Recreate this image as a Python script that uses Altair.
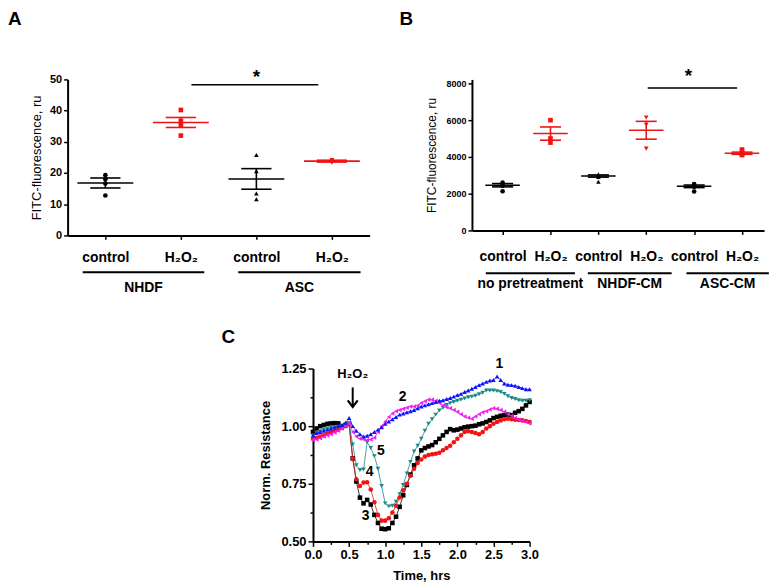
import json
import altair as alt
import pandas as pd

FONT = "Liberation Sans"
RED = "#f01414"

# ---------------- Panel A data ----------------
a_conditions = ["control", "H₂O₂", "control", "H₂O₂"]
a_groups = ["NHDF", "ASC"]
a_points = [
    [19.3, 18.0, 16.6, 12.8],
    [40.2, 36.7, 35.4, 32.0],
    [25.8, 20.6, 13.4, 11.6],
    [24.2, 23.8, 23.5, 23.3],
]
a_means = [16.8, 36.2, 18.1, 23.8]
a_sems = [1.6, 1.6, 3.3, 0.3]
a_y_ticks = [0, 10, 20, 30, 40, 50]

# ---------------- Panel B data ----------------
b_conditions = ["control", "H₂O₂", "control", "H₂O₂", "control", "H₂O₂"]
b_groups = ["no pretreatment", "NHDF-CM", "ASC-CM"]
b_points = [
    [2600, 2460, 2430, 2130],
    [6000, 5000, 4780],
    [3060, 2970, 2910, 2650],
    [6150, 5750, 4450],
    [2520, 2430, 2370, 2120],
    [4400, 4280, 4140, 4100],
]
b_means = [2460, 5270, 2960, 5450, 2400, 4200]
b_sems = [90, 360, 60, 485, 70, 60]
b_y_ticks = [0, 2000, 4000, 6000, 8000]

# ---------------- Panel C data ----------------
c_time = [0.00, 0.05, 0.10, 0.15, 0.20, 0.25, 0.30, 0.35, 0.40, 0.45,
          0.50, 0.55, 0.60, 0.65, 0.70, 0.75, 0.80, 0.85, 0.90, 0.95,
          1.00, 1.05, 1.10, 1.15, 1.20, 1.25, 1.30, 1.35, 1.40, 1.45,
          1.50, 1.55, 1.60, 1.65, 1.70, 1.75, 1.80, 1.85, 1.90, 1.95,
          2.00, 2.05, 2.10, 2.15, 2.20, 2.25, 2.30, 2.35, 2.40, 2.45,
          2.50, 2.55, 2.60, 2.65, 2.70, 2.75, 2.80, 2.85, 2.90, 2.95, 3.00]
c_series_1 = [0.960, 0.970, 0.975, 0.980, 0.985, 0.990, 0.995, 1.000, 1.005, 1.015,
              1.035, 1.000, 0.980, 0.965, 0.955, 0.958, 0.965, 0.975, 0.985, 0.995,
              1.010, 1.020, 1.030, 1.040, 1.050, 1.055, 1.060, 1.065, 1.070, 1.078,
              1.085, 1.090, 1.095, 1.100, 1.105, 1.110, 1.112, 1.118, 1.122, 1.128,
              1.135, 1.140, 1.148, 1.155, 1.162, 1.170, 1.178, 1.185, 1.192, 1.198,
              1.200, 1.215, 1.200, 1.185, 1.180, 1.178, 1.175, 1.170, 1.165, 1.160, 1.160]
c_series_2 = [0.940, 0.942, 0.948, 0.955, 0.960, 0.965, 0.972, 0.980, 0.990, 1.000,
              1.010, 0.975, 0.955, 0.945, 0.942, 0.940, 0.942, 0.950, 0.975, 1.000,
              1.020, 1.040, 1.055, 1.065, 1.070, 1.075, 1.080, 1.085, 1.085, 1.090,
              1.100, 1.108, 1.115, 1.115, 1.110, 1.100, 1.090, 1.082, 1.078, 1.070,
              1.062, 1.052, 1.042, 1.036, 1.032, 1.042, 1.052, 1.060, 1.065, 1.072,
              1.078, 1.075, 1.070, 1.062, 1.052, 1.045, 1.035, 1.028, 1.022, 1.018, 1.012]
c_series_3 = [0.975, 0.990, 1.000, 1.005, 1.010, 1.012, 1.013, 1.012, 1.000, 1.005,
              1.010, 0.860, 0.760, 0.690, 0.665, 0.680, 0.660, 0.615, 0.580, 0.555,
              0.553, 0.557, 0.580, 0.607, 0.650, 0.700, 0.745, 0.790, 0.830, 0.860,
              0.895, 0.905, 0.912, 0.918, 0.930, 0.945, 0.960, 0.975, 0.987, 0.982,
              0.985, 0.990, 0.995, 0.998, 1.000, 1.002, 1.008, 1.012, 1.018, 1.025,
              1.035, 1.040, 1.045, 1.048, 1.050, 1.048, 1.058, 1.065, 1.075, 1.090, 1.105]
c_series_4 = [0.945, 0.950, 0.955, 0.960, 0.968, 0.975, 0.980, 0.985, 0.992, 1.000,
              1.008, 0.860, 0.770, 0.740, 0.755, 0.757, 0.725, 0.670, 0.615, 0.590,
              0.590, 0.600, 0.625, 0.655, 0.690, 0.722, 0.750, 0.785, 0.815, 0.840,
              0.855, 0.868, 0.875, 0.878, 0.880, 0.885, 0.895, 0.905, 0.915, 0.930,
              0.945, 0.960, 0.975, 0.978, 0.975, 0.970, 0.965, 0.975, 0.990, 1.000,
              1.010, 1.018, 1.025, 1.030, 1.032, 1.030, 1.028, 1.027, 1.025, 1.022, 1.018]
c_series_5 = [0.960, 0.970, 0.978, 0.985, 0.990, 0.993, 0.995, 0.998, 1.000, 1.003,
              1.010, 0.920, 0.830, 0.810, 0.812, 0.930, 0.905, 0.870, 0.815, 0.740,
              0.665, 0.652, 0.655, 0.672, 0.705, 0.745, 0.795, 0.845, 0.890, 0.915,
              0.945, 0.980, 1.010, 1.030, 1.050, 1.068, 1.080, 1.092, 1.100, 1.105,
              1.110, 1.115, 1.120, 1.125, 1.128, 1.132, 1.138, 1.145, 1.155, 1.155,
              1.155, 1.152, 1.148, 1.140, 1.130, 1.122, 1.118, 1.112, 1.110, 1.110, 1.112]
c_names = ["3", "4", "5", "2", "1"]  # drawing order (last on top)
c_values = [c_series_3, c_series_4, c_series_5, c_series_2, c_series_1]
c_labels = ["1", "2", "3", "4", "5"]
c_label_t = [2.58, 1.24, 0.73, 0.785, 0.94]
c_label_v = [1.27, 1.125, 0.61, 0.80, 0.89]


def letter(text, dx, dy):
    return alt.Chart(pd.DataFrame({"l": [text]})).mark_text(
        text=text, fontSize=19, fontWeight="bold", align="left", baseline="alphabetic",
        font=FONT, color="black"
    ).encode(x=alt.value(dx), y=alt.value(dy))


def dot_panel(tag, conditions, groups, points, means, sems, y_ticks, shapes,
              x_dom, width, height, y_top, y_title_size, y_label_size,
              group_lines, group_dy, label_dy, sig, star, letter_dx, letter_dy,
              mean_hw, sem_hw, y_title_pad, x_label_pad):
    pts = []
    for i, vals in enumerate(points):
        for v in vals:
            pts.append({"pos": i + 1, "cond": conditions[i], "k": str(i), "val": v})
    pts = pd.DataFrame(pts)
    summ = pd.DataFrame({
        "pos": list(range(1, len(means) + 1)),
        "cond": conditions,
        "mean": means,
        "hi": [m + s for m, s in zip(means, sems)],
        "lo": [m - s for m, s in zip(means, sems)],
    })
    summ["mx1"] = summ["pos"] - mean_hw
    summ["mx2"] = summ["pos"] + mean_hw
    summ["sx1"] = summ["pos"] - sem_hw
    summ["sx2"] = summ["pos"] + sem_hw

    xs = alt.Scale(domain=x_dom, nice=False, zero=False)
    ys = alt.Scale(domain=[0, y_top], nice=False)
    label_expr = json.dumps(conditions) + "[datum.value - 1]"
    xaxis = alt.Axis(values=list(range(1, len(conditions) + 1)), labelExpr=label_expr,
                     title=None, tickSize=4, domainWidth=2, tickWidth=1.5,
                     labelFontSize=14, labelFontWeight="bold", labelPadding=x_label_pad,
                     grid=False, labelFont=FONT)
    yaxis = alt.Axis(values=y_ticks, title="FITC-fluorescence, ru", titleFontSize=y_title_size,
                     titleFontWeight="normal", labelFontSize=y_label_size, labelFontWeight="bold",
                     tickSize=4, domainWidth=2, tickWidth=1.5, titlePadding=y_title_pad,
                     grid=False, labelFont=FONT, titleFont=FONT, labelPadding=2, format="d")

    def X(f):
        return alt.X(f, type="quantitative", scale=xs, axis=xaxis)

    def Y(f):
        return alt.Y(f, type="quantitative", scale=ys, axis=yaxis)

    cscale = alt.Scale(domain=["control", "H₂O₂"], range=["black", RED])
    col = alt.Color("cond:N", scale=cscale, legend=None)

    mean_rule = alt.Chart(summ).mark_rule(strokeWidth=1.6).encode(
        x=X("mx1"), x2="mx2", y=Y("mean"), color=col)
    hi_rule = alt.Chart(summ).mark_rule(strokeWidth=1.6).encode(
        x=X("sx1"), x2="sx2", y=Y("hi"), color=col)
    lo_rule = alt.Chart(summ).mark_rule(strokeWidth=1.6).encode(
        x=X("sx1"), x2="sx2", y=Y("lo"), color=col)
    v_rule = alt.Chart(summ).mark_rule(strokeWidth=1.6).encode(
        x=X("pos"), y=Y("lo"), y2="hi", color=col)
    dots = alt.Chart(pts).mark_point(filled=True, size=22, opacity=1).encode(
        x=X("pos"), y=Y("val"), color=col,
        shape=alt.Shape("k:N", scale=alt.Scale(domain=[str(i) for i in range(len(shapes))],
                                                range=shapes), legend=None))

    gdf = pd.DataFrame({"g": groups,
                        "gx1": [g[0] for g in group_lines],
                        "gx2": [g[1] for g in group_lines]})
    gdf["gc"] = (gdf["gx1"] + gdf["gx2"]) / 2
    glines = alt.Chart(gdf).mark_rule(strokeWidth=2, color="black").encode(
        x=X("gx1"), x2="gx2", y=alt.value(height + group_dy))
    gtext = alt.Chart(gdf).mark_text(fontSize=14, fontWeight="bold", baseline="top",
                                     align="center", font=FONT, color="black").encode(
        x=X("gc"), y=alt.value(height + label_dy), text="g:N")

    sdf = pd.DataFrame({"x1": [sig[0]], "x2": [sig[1]], "y": [sig[2]],
                        "sx": [star[0]], "sy": [star[1]], "s": ["*"]})
    srule = alt.Chart(sdf).mark_rule(strokeWidth=1.5, color="black").encode(
        x=X("x1"), x2="x2", y=Y("y"))
    stext = alt.Chart(sdf).mark_text(fontSize=19, fontWeight="bold", baseline="alphabetic",
                                     align="center", font=FONT, color="black").encode(
        x=X("sx"), y=Y("sy"), text="s:N")

    return alt.layer(mean_rule, hi_rule, lo_rule, v_rule, dots, glines, gtext, srule, stext,
                     letter(tag, letter_dx, letter_dy)).properties(width=width, height=height)


panel_a = dot_panel(
    "A", a_conditions, a_groups, a_points, a_means, a_sems, a_y_ticks,
    ["circle", "square", "triangle-up", "triangle-down"],
    [0.5, 4.5], 304, 157, 50, 13, 11,
    [(0.70, 2.31), (2.76, 4.38)], 37, 46,
    (2.14, 3.82, 48.3), (3.0, 49.0), -60, -55, 0.37, 0.2, 6, 11)

# B: plot area is 4px taller than the 0-8000 span so that 8000 sits a bit lower
panel_b = dot_panel(
    "B", b_conditions, b_groups, b_points, b_means, b_sems, b_y_ticks,
    ["circle", "square", "triangle-up", "triangle-down", "diamond", "circle"],
    [0.36, 6.46], 294, 152, 8000 * 152 / 148, 12, 9,
    [(0.65, 2.51), (2.78, 4.53), (4.84, 6.56)], 43, 47,
    (4.03, 5.90, 7750), (4.88, 8050), -73, -55, 0.36, 0.22, 8, 15)

# ---------------- Panel C ----------------
rows = []
for name, vals in zip(c_names, c_values):
    for t, v in zip(c_time, vals):
        rows.append({"t": t, "v": v, "s": name})
cdf = pd.DataFrame(rows)

cxs = alt.Scale(domain=[0, 3], nice=False, zero=False)
cys = alt.Scale(domain=[0.5, 1.25], nice=False, zero=False)
cxaxis = alt.Axis(values=[i * 0.25 for i in range(13)],
                  labelExpr="datum.value % 0.5 == 0 ? format(datum.value, '.1f') : ''",
                  title="Time, hrs", titleFontSize=13, titleFontWeight="bold",
                  labelFontSize=13, labelFontWeight="bold", labelPadding=2,
                  tickSize={"condition": {"test": "datum.value % 0.5 == 0", "value": 5}, "value": 3},
                  domainWidth=2, tickWidth=1.5, titlePadding=8, grid=False,
                  labelFont=FONT, titleFont=FONT, labelFlush=False)
cyaxis = alt.Axis(values=[0.5 + i * 0.125 for i in range(7)],
                  labelExpr="datum.value % 0.25 == 0 ? format(datum.value, '.2f') : ''",
                  title="Norm. Resistance", titleFontSize=13, titleFontWeight="bold",
                  labelFontSize=13, labelFontWeight="bold", labelPadding=2,
                  tickSize={"condition": {"test": "datum.value % 0.25 == 0", "value": 5}, "value": 3},
                  domainWidth=2, tickWidth=1.5, titlePadding=8, grid=False,
                  labelFont=FONT, titleFont=FONT, labelFlush=False)

ccol = alt.Color("s:N", scale=alt.Scale(domain=["1", "2", "3", "4", "5"],
                                        range=["#1010ff", "#f020f0", "#000000", "#f01414", "#1a8a8a"]),
                 legend=None)
cshape = alt.Shape("s:N", scale=alt.Scale(domain=["1", "2", "3", "4", "5"],
                                          range=["triangle-up", "triangle-left", "square",
                                                 "circle", "triangle-down"]), legend=None)

c_lines = alt.Chart(cdf).mark_line(strokeWidth=0.8).encode(
    x=alt.X("t:Q", scale=cxs, axis=cxaxis), y=alt.Y("v:Q", scale=cys, axis=cyaxis),
    color=ccol, detail="s:N", order="t:Q")
c_pts = alt.Chart(cdf).mark_point(filled=True, size=21, opacity=1).encode(
    x=alt.X("t:Q", scale=cxs, axis=cxaxis), y=alt.Y("v:Q", scale=cys, axis=cyaxis),
    color=ccol, shape=cshape)

ldf = pd.DataFrame({"lab": c_labels, "t": c_label_t, "v": c_label_v})
c_lab = alt.Chart(ldf).mark_text(fontSize=14, fontWeight="bold", font=FONT, color="black",
                                 baseline="middle", align="center").encode(
    x=alt.X("t:Q", scale=cxs, axis=cxaxis), y=alt.Y("v:Q", scale=cys, axis=cyaxis), text="lab:N")

adf = pd.DataFrame({"t": [0.55], "v1": [1.168], "v2": [1.086], "vh": [1.090],
                    "vt": [1.224], "txt": ["H₂O₂"]})
arrow = alt.Chart(adf).mark_rule(strokeWidth=2, color="black").encode(
    x=alt.X("t:Q", scale=cxs, axis=cxaxis), y=alt.Y("v1:Q", scale=cys, axis=cyaxis), y2="v2")
head = alt.Chart(adf).mark_point(shape="M-1,-1L0,0.3L1,-1", filled=False, strokeWidth=2.2,
                                 size=100, color="black", opacity=1).encode(
    x=alt.X("t:Q", scale=cxs, axis=cxaxis), y=alt.Y("vh:Q", scale=cys, axis=cyaxis))
h2o2 = alt.Chart(adf).mark_text(fontSize=13, fontWeight="bold", font=FONT, color="black",
                                baseline="middle", align="center").encode(
    x=alt.X("t:Q", scale=cxs, axis=cxaxis), y=alt.Y("vt:Q", scale=cys, axis=cyaxis), text="txt:N")

panel_c = alt.layer(c_lines, c_pts, c_lab, arrow, head, h2o2, letter("C", -92, -26)).properties(
    width=218, height=174)

spacer = alt.Chart(pd.DataFrame({"z": [0]})).mark_point(opacity=0).encode(
    x=alt.value(0), y=alt.value(0)).properties(
    width=155, height=1, view=alt.ViewBackground(stroke=None, strokeOpacity=0, fill=None))

chart = alt.vconcat(
    alt.hconcat(panel_a, panel_b, spacing=30),
    alt.hconcat(spacer, panel_c, spacing=0),
    spacing=33,
).resolve_scale(color="independent", shape="independent").properties(
    padding=0
).configure(font=FONT).configure_view(stroke=None).configure_axis(
    domainColor="black", tickColor="black", labelColor="black", titleColor="black"
)

chart.save("out.html", embed_options={"renderer": "svg", "actions": False})
